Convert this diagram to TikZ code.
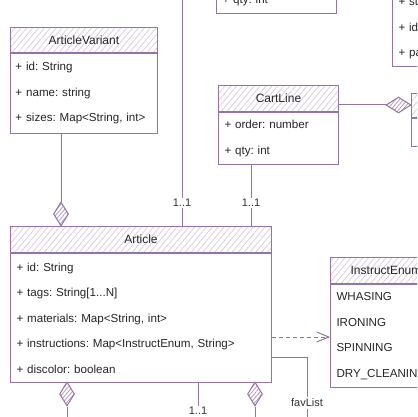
\documentclass[tikz,border=0pt]{standalone}
\usepackage{fontspec}
\setmainfont{Liberation Sans}
\usetikzlibrary{shapes.geometric,patterns.meta,arrows.meta}
\definecolor{umlpurple}{HTML}{9673A6}
\definecolor{hatchlight}{HTML}{DCCDE4}
\definecolor{hatchdark}{HTML}{B59CC6}
\tikzset{>=latex}
\tikzset{
  classhead/.style={draw=umlpurple, line width=1pt, preaction={fill=white},
    pattern={Lines[angle=50,distance=4.5pt,line width=0.8pt]}, pattern color=hatchlight,
    inner sep=0pt, minimum height=26pt, anchor=north west, text=black!85,
    font=\fontsize{12}{14}\selectfont},
  classbody/.style={draw=umlpurple, line width=1pt, fill=white, inner xsep=6pt, inner ysep=0pt,
    align=left, anchor=north west, text=black!85, font=\fontsize{11.6}{25.5}\selectfont\frenchspacing},
  aggr/.style={diamond, draw=umlpurple, line width=1pt, preaction={fill=white},
    pattern={Lines[angle=50,distance=3pt,line width=0.8pt]}, pattern color=hatchdark, inner sep=0pt},
  assoc/.style={draw=umlpurple, line width=1pt},
  dep/.style={assoc, dash pattern=on 4pt off 3pt, -{Straight Barb[length=12pt,width=10pt]}},
  mult/.style={fill=white, inner sep=1.5pt, text=black!80, font=\fontsize{11}{13}\selectfont}
}

\begin{document}
\begin{tikzpicture}[x=1pt,y=-1pt]
	\path[use as bounding box, fill=white] (0,0) rectangle (417,417);
	\clip (0,0) rectangle (417,417);

	\node[classbody, text width=108pt, minimum height=26pt, anchor=south west] (qtybody) at (216,14) {+ qty: int};
	\node[classbody, text width=48pt, minimum height=76pt, anchor=south west] (topbody) at (392,67) {+ st\\+ id\\+ pa};

	\node[classhead, minimum width=147pt, minimum height=25pt] (varhead) at (10,27) {ArticleVariant};
	\node[classbody, inner xsep=5pt, text width=137pt, minimum height=80pt] (varbody) at (varhead.south west)
		{+ id: String\\+ name: string\\+ sizes: Map<String, int>};

	\node[classhead, minimum width=120pt] (carthead) at (218,85) {CartLine};
	\node[classbody, text width=108pt, minimum height=52pt] (cartbody) at (carthead.south west)
		{+ order: number\\+ qty: int};

	\node[classhead, minimum width=60pt, minimum height=24pt] (linkhead) at (411,93) {};
	\node[classbody, text width=48pt, minimum height=28pt] (linkbody) at (linkhead.south west) {};

	\node[classhead, minimum width=261pt] (articlehead) at (10,226) {Article};
	\node[classbody, text width=249pt, minimum height=129pt] (article) at (articlehead.south west)
		{+ id: String\\+ tags: String[1...N]\\+ materials: Map<String, int>\\+ instructions: Map<InstructEnum, String>\\+ discolor: boolean};

	\node[classhead, minimum width=111pt] (enumhead) at (330,257) {InstructEnum};
	\node[classbody, text width=99pt, minimum height=103pt] (enumbody) at (enumhead.south west)
		{WHASING\\IRONING\\SPINNING\\DRY\_CLEANING};

	\node[aggr, minimum width=15pt, minimum height=24pt] (dvar) at (61,214) {};
	\node[aggr, minimum width=15pt, minimum height=24pt] (dleft) at (67,394) {};
	\node[aggr, minimum width=15pt, minimum height=24pt] (dright) at (255,394) {};
	\node[aggr, minimum width=25pt, minimum height=16pt] (dcart) at (398.5,105) {};

	\node[mult] (mtop) at (182,203) {1..1};
	\node[mult] (mcart) at (251,203) {1..1};
	\node[mult] (mbot) at (198,411) {1..1};
	\node[mult] (fav) at (307,403) {favList};

	\coordinate (roof) at (182,0);
	\coordinate (floor) at (0,417);
	\coordinate (deplevel) at (0,337);
	\coordinate (favturn) at (307,357);

	\draw[assoc] (roof) -- (mtop.north);
	\draw[assoc] (mtop.south) -- (mtop.south |- articlehead.north);
	\draw[assoc] (cartbody.south -| mcart) -- (mcart.north);
	\draw[assoc] (mcart.south) -- (mcart.south |- articlehead.north);
	\draw[assoc] (varbody.south -| dvar) -- (dvar.north);
	\draw[assoc] (article.south -| mbot) -- (mbot.north);
	\draw[assoc] (dleft.south) -- (dleft.south |- floor);
	\draw[assoc] (dright.south) -- (dright.south |- floor);
	\draw[assoc] (article.east |- favturn) -- (favturn) -- (fav.north);
	\draw[assoc] (fav.south) -- (fav.south |- floor);
	\draw[dep] (article.east |- deplevel) -- (enumbody.west |- deplevel);
	\draw[assoc] (carthead.east |- dcart) -- (dcart.west);
\end{tikzpicture}
\end{document}
